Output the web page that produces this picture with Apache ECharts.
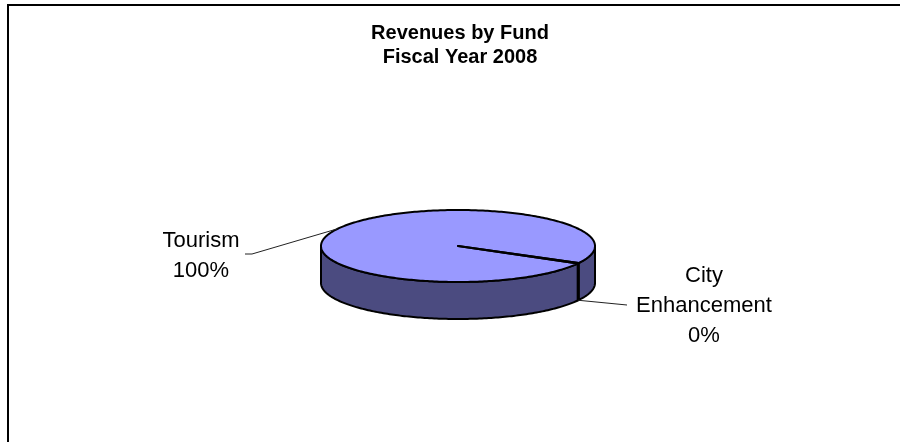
<!DOCTYPE html>
<html>
<head>
<meta charset="utf-8">
<script src="https://cdn.jsdelivr.net/npm/echarts@6/dist/echarts.min.js"></script>
<style>
  html, body { margin: 0; padding: 0; background: #fff; }
  #chart { width: 900px; height: 442px; }
</style>
</head>
<body>
<div id="chart"></div>
<script>
// Revenue shares by fund, fiscal year 2008
const categories = ['Tourism', 'City Enhancement'];
const labelNames = ['Tourism', 'City\nEnhancement'];
const values = [99.8, 0.2];
const titleLines = ['Revenues by Fund', 'Fiscal Year 2008'];

// 3D pie geometry (ellipse centre, radii, wall depth, first-slice angle, clockwise from 3 o'clock)
const PIE = { cx: 458, cy: 246, rx: 137, ry: 36, depth: 37, start: 29 };
const TOP_COLOR = '#9999FF';
const SIDE_COLOR = '#4B4B80';
const FONT = '"Liberation Sans", Arial, sans-serif';

// label placement per slice
const LABEL_LAYOUT = [
  { x: 201, y: 256, path: [[252, 254], [245, 254]], fromBottom: false },
  { x: 704, y: 306, path: [[627, 305]], fromBottom: true }
];

const total = values.reduce((s, v) => s + v, 0);

function pt(t, dy) {
  const r = t * Math.PI / 180;
  return [PIE.cx + PIE.rx * Math.cos(r), PIE.cy + PIE.ry * Math.sin(r) + (dy || 0)];
}

function arcPoints(a, b, dy) {
  const pts = [];
  const n = Math.max(2, Math.ceil(Math.abs(b - a)));
  for (let i = 0; i <= n; i++) pts.push(pt(a + (b - a) * i / n, dy));
  return pts;
}

function renderItem(params, api) {
  const idx = params.dataIndex;
  const v = api.value(0);
  let before = 0;
  for (let i = 0; i < idx; i++) before += values[i];
  const a = PIE.start + before / total * 360;
  const b = a + v / total * 360;
  const children = [];

  // front wall: visible where the angle lies in the lower half of the ellipse
  for (let k = 0; k < 3; k++) {
    const lo = Math.max(a, k * 360), hi = Math.min(b, k * 360 + 180);
    if (hi > lo) {
      const topArc = arcPoints(lo, hi, 0);
      const botArc = arcPoints(hi, lo, PIE.depth);
      children.push({
        type: 'polygon',
        shape: { points: topArc.concat(botArc) },
        style: { fill: SIDE_COLOR, stroke: '#000', lineWidth: 2, lineJoin: 'round' },
        z2: 1
      });
    }
  }

  // top face
  children.push({
    type: 'polygon',
    shape: { points: [[PIE.cx, PIE.cy]].concat(arcPoints(a, b, 0)) },
    style: { fill: TOP_COLOR, stroke: '#000', lineWidth: 2, lineJoin: 'round' },
    z2: 2
  });

  // leader line and label
  const lay = LABEL_LAYOUT[idx];
  const mid = (a + b) / 2;
  const anchor = pt(mid, lay.fromBottom ? PIE.depth : 0);
  children.push({
    type: 'polyline',
    shape: { points: [anchor].concat(lay.path) },
    style: { stroke: '#222', lineWidth: 1, fill: null },
    z2: 3
  });
  const pct = Math.round(v / total * 100) + '%';
  children.push({
    type: 'text',
    style: {
      text: labelNames[idx] + '\n' + pct,
      x: lay.x, y: lay.y,
      align: 'center', verticalAlign: 'middle',
      font: '22px ' + FONT, lineHeight: 30, fill: '#000'
    },
    z2: 3
  });

  return { type: 'group', children: children };
}

const chart = echarts.init(document.getElementById('chart'), null, { renderer: 'canvas' });
chart.setOption({
  animation: false,
  backgroundColor: '#fff',
  graphic: [
    {
      type: 'rect',
      shape: { x: 8, y: 5, width: 1000, height: 1000 },
      style: { fill: 'none', stroke: '#000', lineWidth: 2 },
      silent: true
    },
    {
      type: 'text',
      style: {
        text: titleLines.join('\n'),
        x: 460, y: 45,
        align: 'center', verticalAlign: 'middle',
        font: 'bold 20px ' + FONT, lineHeight: 24, fill: '#000'
      }
    }
  ],
  series: [{
    type: 'custom',
    coordinateSystem: 'none',
    renderItem: renderItem,
    data: values.map((v, i) => ({ name: categories[i], value: [v] }))
  }]
});
</script>
</body>
</html>
